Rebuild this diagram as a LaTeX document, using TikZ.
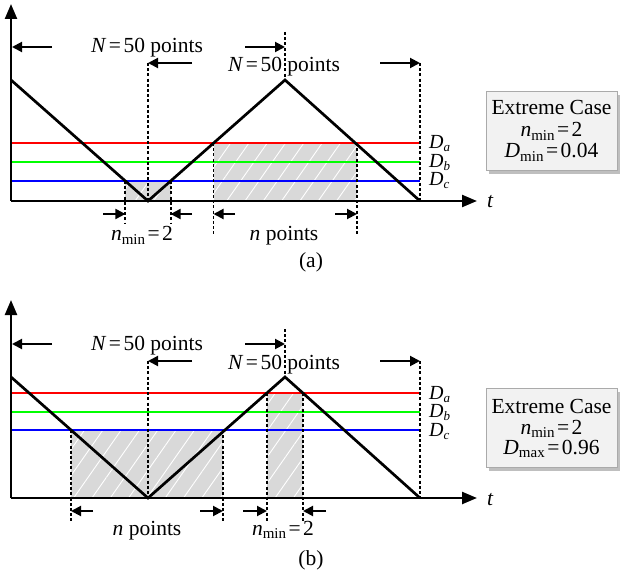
\documentclass[tikz,border=0pt]{standalone}
\usepackage{fontspec}
\setmainfont{Liberation Serif}
\usetikzlibrary{arrows.meta,patterns.meta,shadows}
\definecolor{hatchgray}{RGB}{217,217,217}
\definecolor{boxfill}{RGB}{242,242,242}
\definecolor{boxline}{RGB}{170,170,170}
\definecolor{lred}{RGB}{255,0,0}
\definecolor{lgreen}{RGB}{0,255,0}
\definecolor{lblue}{RGB}{0,0,255}
\newcommand\sbs[1]{\raisebox{-0.18em}{\fontsize{15}{15}\selectfont #1}}
\newcommand\dsub[1]{\raisebox{-0.15em}{\fontsize{13}{13}\selectfont\itshape #1}}
\newcommand\eqs{\hspace{2.5pt}=\hspace{2.5pt}}
\tikzset{
  wave/.style={line width=2.7pt, line join=miter},
  axisline/.style={line width=2.4pt, -{Triangle[length=15pt,width=12pt]}},
  dotline/.style={line width=1.9pt, dash pattern=on 3pt off 2.2pt},
  dimarrow/.style={line width=2pt, -{Triangle[length=10pt,width=10pt]}},
  hatch/.style={fill=hatchgray, postaction={pattern={Lines[angle=55,distance=15pt,line width=0.9pt]}, pattern color=white}},
  lvl/.style={line width=2.7pt},
  lbl/.style={anchor=base, inner sep=0pt, font=\fontsize{21.5}{24}\selectfont},
  dlbl/.style={anchor=base west, inner sep=0pt, font=\fontsize{20}{20}\selectfont},
  casebox/.style={draw=boxline, line width=1pt, fill=boxfill, minimum width=131pt, minimum height=79pt, inner sep=0pt,
     drop shadow={shadow xshift=2.5pt, shadow yshift=-3pt, fill=black, opacity=0.25}},
}
\begin{document}
\begin{tikzpicture}[x=1pt,y=-1pt]
\useasboundingbox (0,0) rectangle (621,577);

% ================= panel (a) =================
\coordinate (oa) at (11,201);
\coordinate (ya) at (11,4);
\coordinate (xa) at (477,201);
\coordinate (a0) at (11,80);
\coordinate (a1) at (148,201);
\coordinate (a2) at (285,80);
\coordinate (a3) at (420,201);

% shaded regions
\fill[hatch] (125.4,181) rectangle (170.6,201);
\fill[hatch] (213.5,143) rectangle (357,201);

% level lines
\coordinate (ra0) at (11,143); \coordinate (ra1) at (420,143);
\coordinate (ga0) at (11,162); \coordinate (ga1) at (420,162);
\coordinate (ba0) at (11,181); \coordinate (ba1) at (420,181);
\draw[lvl, lred] (ra0) -- (ra1);
\draw[lvl, lgreen] (ga0) -- (ga1);
\draw[lvl, lblue] (ba0) -- (ba1);

% wave
\draw[wave] (a0) -- (a1) -- (a2) -- (a3);

% axes
\draw[axisline] (oa) -- (ya);
\draw[axisline] (oa) -- (xa);
\node[lbl, font=\fontsize{21.5}{24}\selectfont\itshape] (ta) at (490,208) {t};

% vertical dotted lines
\draw[dotline] (148,63) -- (a1);
\draw[dotline] (285,32) -- (a2);
\draw[dotline] (420,63) -- (a3);
\draw[dotline] (125.4,181) -- (125.4,223);
\draw[dotline] (170.6,181) -- (170.6,223);
\draw[dotline] (213.5,143) -- (213.5,235);
\draw[dotline] (357,143) -- (357,235);

% top dimension arrows
\draw[dimarrow] (52,47) -- (12,47);
\draw[dimarrow] (192,63) -- (148,63);
\draw[dimarrow] (245,47) -- (285,47);
\draw[dimarrow] (380,63) -- (420,63);
\node[lbl] (na1) at (147,53) {\textit{N}\eqs 50 points};
\node[lbl] (na2) at (284,72) {\textit{N}\eqs 50 points};

% bottom dimension arrows
\draw[dimarrow] (103,214) -- (125.4,214);
\draw[dimarrow] (192,214) -- (170.6,214);
\draw[dimarrow] (235,214) -- (213.5,214);
\draw[dimarrow] (335,214) -- (357,214);
\node[lbl] (nmina) at (142,241) {\textit{n}\sbs{min}\eqs 2};
\node[lbl] (npa) at (284,241) {\textit{n} points};

% level labels
\node[dlbl] (Daa) at (429,149) {\textit{D}\dsub{a}};
\node[dlbl] (Dba) at (429,167.5) {\textit{D}\dsub{b}};
\node[dlbl] (Dca) at (429,186) {\textit{D}\dsub{c}};

% case box
\node[casebox] (boxa) at (551.5,131.5) {};
\node[lbl] (ca1) at (551.5,115) {Extreme Case};
\node[lbl] (ca2) at (551.5,136.5) {\textit{n}\sbs{min}\eqs 2};
\node[lbl] (ca3) at (551.5,158) {\textit{D}\sbs{min}\eqs 0.04};

\node[lbl] (capa) at (311,268) {(a)};

% ================= panel (b) =================
\coordinate (ob) at (11,498);
\coordinate (yb) at (11,300);
\coordinate (xb) at (477,498);
\coordinate (b0) at (11,377);
\coordinate (b1) at (148,498);
\coordinate (b2) at (285,377);
\coordinate (b3) at (420,498);

\fill[hatch] (71,430) rectangle (223,498);
\fill[hatch] (267,393) rectangle (303,498);

\coordinate (rb0) at (11,393); \coordinate (rb1) at (420,393);
\coordinate (gb0) at (11,412); \coordinate (gb1) at (420,412);
\coordinate (bb0) at (11,430); \coordinate (bb1) at (420,430);
\draw[lvl, lred] (rb0) -- (rb1);
\draw[lvl, lgreen] (gb0) -- (gb1);
\draw[lvl, lblue] (bb0) -- (bb1);

\draw[wave] (b0) -- (b1) -- (b2) -- (b3);

\draw[axisline] (ob) -- (yb);
\draw[axisline] (ob) -- (xb);
\node[lbl, font=\fontsize{21.5}{24}\selectfont\itshape] (tb) at (490,505) {t};

\draw[dotline] (148,361) -- (b1);
\draw[dotline] (285,329) -- (b2);
\draw[dotline] (420,361) -- (b3);
\draw[dotline] (71,430) -- (71,522);
\draw[dotline] (223,430) -- (223,522);
\draw[dotline] (267,393) -- (267,522);
\draw[dotline] (303,393) -- (303,522);

\draw[dimarrow] (52,344) -- (12,344);
\draw[dimarrow] (192,361) -- (148,361);
\draw[dimarrow] (245,344) -- (285,344);
\draw[dimarrow] (380,361) -- (420,361);
\node[lbl] (nb1) at (147,350) {\textit{N}\eqs 50 points};
\node[lbl] (nb2) at (284,369) {\textit{N}\eqs 50 points};

\draw[dimarrow] (93,511) -- (71,511);
\draw[dimarrow] (200,511) -- (223,511);
\draw[dimarrow] (243,511) -- (267,511);
\draw[dimarrow] (326,511) -- (303,511);
\node[lbl] (npb) at (147,535) {\textit{n} points};
\node[lbl] (nminb) at (283,535) {\textit{n}\sbs{min}\eqs 2};

\node[dlbl] (Dab) at (429,399) {\textit{D}\dsub{a}};
\node[dlbl] (Dbb) at (429,417.5) {\textit{D}\dsub{b}};
\node[dlbl] (Dcb) at (429,436) {\textit{D}\dsub{c}};

\node[casebox] (boxb) at (551.5,428) {};
\node[lbl] (cb1) at (551.5,413) {Extreme Case};
\node[lbl] (cb2) at (551.5,434) {\textit{n}\sbs{min}\eqs 2};
\node[lbl] (cb3) at (551.5,454) {\textit{D}\sbs{max}\eqs 0.96};

\node[lbl] (capb) at (311,565) {(b)};
\end{tikzpicture}
\end{document}
